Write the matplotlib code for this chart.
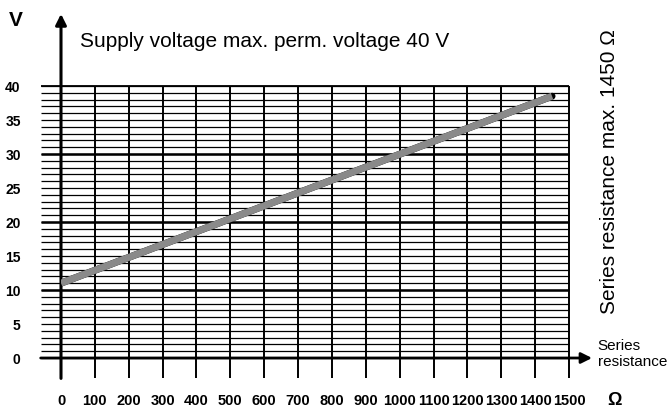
"""
Supply voltage vs. series resistance chart.
"""
import matplotlib
matplotlib.use("Agg")
import matplotlib.pyplot as plt
from matplotlib import font_manager

# data
resistance = [0, 1450]          # ohm
voltage = [11.0, 38.5]          # V
x_ticks = list(range(0, 1600, 100))
y_ticks = list(range(0, 45, 5))
minor_levels = list(range(0, 41, 1))
major_levels = [0, 10, 20, 30, 40]

TITLE = "Supply voltage max. perm. voltage 40 V"
SIDE_TEXT = "Series resistance max. 1450 \u03a9"
X_NAME = "Series\nresistance"

names = {f.name for f in font_manager.fontManager.ttflist}
narrow_font = "Liberation Sans Narrow" if "Liberation Sans Narrow" in names else "Liberation Sans"
plt.rcParams["font.family"] = ["Liberation Sans", "DejaVu Sans"]

fig = plt.figure(figsize=(6.7, 4.09), dpi=100)
ax = fig.add_axes([61 / 670, 1 - 358 / 409, (569 - 61) / 670, (358 - 86) / 409])
ax.set_xlim(0, 1500)
ax.set_ylim(0, 40)
for s in ax.spines.values():
    s.set_visible(False)

# grid: minor horizontal lines, heavier every 10 V
x_left = -60
ax.hlines(minor_levels, x_left, 1500, colors="black", lw=0.9, clip_on=False, zorder=1)
ax.hlines(major_levels[1:4], x_left, 1500, colors="black", lw=1.8, clip_on=False, zorder=1)
ax.hlines([40], x_left, 1500, colors="black", lw=1.3, clip_on=False, zorder=1)
ax.vlines(x_ticks[1:], -3, 40, colors="black", lw=1.4, clip_on=False, zorder=1)

# axes with arrows
ax.annotate("", xy=(1568, 0), xytext=(x_left, 0),
            arrowprops=dict(arrowstyle="-|>", lw=2, color="black", mutation_scale=16,
                            shrinkA=0, shrinkB=0),
            annotation_clip=False, zorder=3)
ax.annotate("", xy=(0, 50.6), xytext=(0, -3),
            arrowprops=dict(arrowstyle="-|>", lw=2.2, color="black", mutation_scale=16,
                            shrinkA=0, shrinkB=0),
            annotation_clip=False, zorder=3)

# characteristic line
ax.plot(resistance, voltage, color="black", lw=5, solid_capstyle="round", zorder=4)
ax.plot(resistance, voltage, color="#8a8a8a", lw=5, solid_capstyle="butt", zorder=5)

# tick labels
ax.set_xticks(x_ticks)
ax.set_xticklabels([str(v) for v in x_ticks])
ax.set_yticks(y_ticks)
ax.set_yticklabels([str(v) for v in y_ticks])
ax.tick_params(axis="both", length=0)
ax.tick_params(axis="x", pad=26)
ax.tick_params(axis="y", pad=29)
for lab in ax.get_xticklabels():
    lab.set_fontfamily(narrow_font)
    lab.set_fontweight("bold")
    lab.set_fontsize(10.5)
for lab in ax.get_yticklabels():
    lab.set_fontfamily("Liberation Sans")
    lab.set_fontweight("bold")
    lab.set_fontsize(10)

# texts
ax.text(-133, 49.7, "V", fontsize=15, fontweight="bold", ha="center", va="center", clip_on=False)
ax.text(1635, -6.2, "\u03a9", fontsize=13, fontweight="bold", ha="center", va="center", clip_on=False)
ax.text(56, 46.6, TITLE, fontsize=15, ha="left", va="center", clip_on=False)
ax.text(1621, 27.4, SIDE_TEXT, fontsize=15, rotation=90, ha="center", va="center", clip_on=False)
ax.text(1585, 0.6, X_NAME, fontsize=11, ha="left", va="center", linespacing=1.15, clip_on=False)

fig.savefig("out.png", dpi=100)
